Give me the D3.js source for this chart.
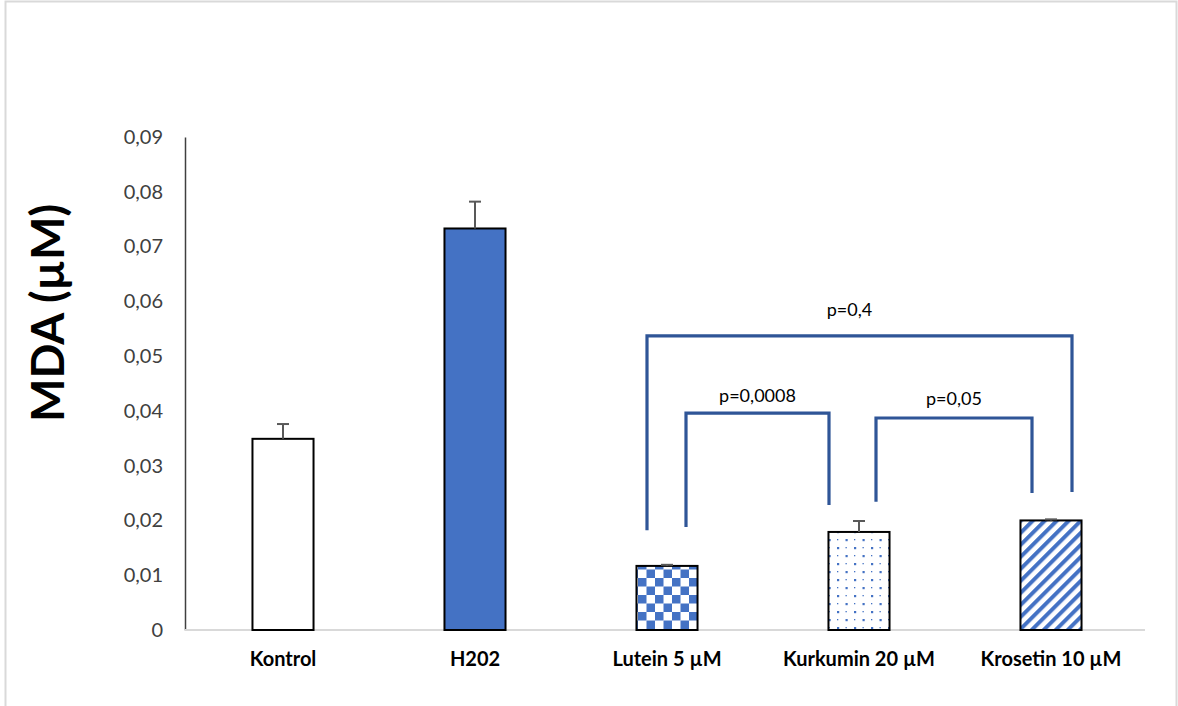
<!DOCTYPE html>
<html>
<head>
<meta charset="utf-8">
<script src="https://cdn.jsdelivr.net/npm/d3@7"></script>
<style>
  html, body { margin: 0; padding: 0; background: #fff; }
  svg { display: block; }
</style>
</head>
<body>
<svg id="chart" width="1178" height="706"></svg>
<script>
// MDA levels per treatment group
const categories = ["Kontrol", "H202", "Lutein 5 µM", "Kurkumin 20 µM", "Krosetin 10 µM"];
const means = [0.0349, 0.0733, 0.0117, 0.0179, 0.0200];
const errors = [0.0027, 0.0049, 0.0002, 0.0020, 0.0002];
const fills = ["white", "solid", "checker", "dots", "stripes"];
const yTicks = [0, 0.01, 0.02, 0.03, 0.04, 0.05, 0.06, 0.07, 0.08, 0.09];
const yTickLabels = ["0", "0,01", "0,02", "0,03", "0,04", "0,05", "0,06", "0,07", "0,08", "0,09"];

// significance brackets between groups
const bracketFrom = ["Lutein 5 µM", "Lutein 5 µM", "Kurkumin 20 µM"];
const bracketTo = ["Krosetin 10 µM", "Kurkumin 20 µM", "Krosetin 10 µM"];
const bracketTop = [0.0537, 0.0396, 0.0387];
const bracketLeftEnd = [0.0182, 0.0188, 0.0234];
const bracketRightEnd = [0.0252, 0.0228, 0.0250];
const bracketLabels = ["p=0,4", "p=0,0008", "p=0,05"];
const bracketLabelAt = [0.0573, 0.0416, 0.0411];

const W = 1178, H = 706;
const margin = { top: 137, right: 33, bottom: 76, left: 185 };
const svg = d3.select("#chart");

const BLUE = "#4472C4";
const DARKBLUE = "#2F5597";
const FONT = "Lato, 'Open Sans', sans-serif";

// outer frame
svg.append("rect")
  .attr("x", 5.5).attr("y", 1.5)
  .attr("width", 1171).attr("height", 720)
  .attr("fill", "none").attr("stroke", "#d9d9d9").attr("stroke-width", 2);

// fill patterns
const defs = svg.append("defs");
const chk = defs.append("pattern").attr("id", "checker")
  .attr("patternUnits", "userSpaceOnUse").attr("width", 17).attr("height", 17)
  .attr("x", 638).attr("y", 0);
chk.append("rect").attr("width", 17).attr("height", 17).attr("fill", "#fff");
chk.append("rect").attr("width", 8.5).attr("height", 8.5).attr("fill", BLUE);
chk.append("rect").attr("x", 8.5).attr("y", 8.5).attr("width", 8.5).attr("height", 8.5).attr("fill", BLUE);

const dots = defs.append("pattern").attr("id", "dots")
  .attr("patternUnits", "userSpaceOnUse").attr("width", 17).attr("height", 16);
dots.append("rect").attr("width", 17).attr("height", 16).attr("fill", "#fff");
[[4, 3, 2.2], [12.5, 11, 2.2], [12.5, 3, 1.3], [4, 11, 1.3]].forEach(d => {
  dots.append("rect").attr("x", d[0]).attr("y", d[1]).attr("width", d[2]).attr("height", d[2]).attr("fill", BLUE);
});

const str = defs.append("pattern").attr("id", "stripes")
  .attr("patternUnits", "userSpaceOnUse").attr("width", 8.5).attr("height", 8.5)
  .attr("patternTransform", "rotate(45)");
str.append("rect").attr("width", 8.5).attr("height", 8.5).attr("fill", "#fff");
str.append("rect").attr("width", 4).attr("height", 8.5).attr("fill", BLUE);

const x = d3.scaleBand()
  .domain(categories)
  .range([margin.left + 2, W - margin.right + 2])
  .paddingInner(0.682).paddingOuter(0.341);

const y = d3.scaleLinear().domain([0, 0.09]).range([H - margin.bottom, margin.top]);

// y axis
const yAxis = svg.append("g")
  .attr("transform", `translate(${margin.left},0)`)
  .call(d3.axisLeft(y).tickValues(yTicks).tickFormat((d, i) => yTickLabels[i]).tickSize(0).tickPadding(22));
yAxis.select(".domain").attr("stroke", "#404040").attr("stroke-width", 1.5);
yAxis.selectAll("text")
  .attr("font-family", FONT)
  .attr("font-size", 20).attr("fill", "#404040");

// x axis
const xAxis = svg.append("g")
  .attr("transform", `translate(0,${y(0)})`)
  .call(d3.axisBottom(x).tickSize(0).tickPadding(22));
xAxis.select(".domain").attr("stroke", "#d9d9d9").attr("stroke-width", 2)
  .attr("d", `M${margin.left},0H${W - margin.right}`);
xAxis.selectAll("text")
  .attr("font-family", FONT)
  .attr("font-weight", "bold").attr("font-size", 20).attr("fill", "#000");

// bars
const fillFor = f => f === "white" ? "#fff" : f === "solid" ? BLUE : `url(#${f})`;
svg.append("g").selectAll("rect")
  .data(categories)
  .join("rect")
  .attr("x", d => x(d))
  .attr("y", (d, i) => y(means[i]))
  .attr("width", x.bandwidth())
  .attr("height", (d, i) => y(0) - y(means[i]))
  .attr("fill", (d, i) => fillFor(fills[i]))
  .attr("stroke", "#000").attr("stroke-width", 2);

// error bars (upper half only)
const eb = svg.append("g").attr("stroke", "#595959").attr("stroke-width", 2);
categories.forEach((c, i) => {
  const cx = x(c) + x.bandwidth() / 2;
  eb.append("line").attr("x1", cx).attr("x2", cx)
    .attr("y1", y(means[i])).attr("y2", y(means[i] + errors[i]));
  eb.append("line").attr("x1", cx - 6).attr("x2", cx + 6)
    .attr("y1", y(means[i] + errors[i])).attr("y2", y(means[i] + errors[i]));
});

// significance brackets
const center = c => x(c) + x.bandwidth() / 2;
const legOffsets = [[-20, 21], [19, -30], [17, -19]];
const br = svg.append("g");
bracketFrom.forEach((from, i) => {
  const x1 = center(from) + legOffsets[i][0];
  const x2 = center(bracketTo[i]) + legOffsets[i][1];
  br.append("path")
    .attr("d", `M${x1},${y(bracketLeftEnd[i])}V${y(bracketTop[i])}H${x2}V${y(bracketRightEnd[i])}`)
    .attr("fill", "none").attr("stroke", DARKBLUE).attr("stroke-width", 3.2);
  br.append("text")
    .attr("x", (x1 + x2) / 2 - (i === 0 ? 10 : 0))
    .attr("y", y(bracketLabelAt[i]))
    .attr("text-anchor", "middle")
    .attr("font-family", FONT)
    .attr("font-size", 18).attr("fill", "#000")
    .text(bracketLabels[i]);
});

// y axis title
svg.append("text")
  .attr("transform", "translate(64,313) rotate(-90)")
  .attr("text-anchor", "middle")
  .attr("font-family", FONT)
  .attr("font-weight", "bold").attr("font-size", 46).attr("fill", "#000")
  .text("MDA (µM)");
</script>
</body>
</html>
